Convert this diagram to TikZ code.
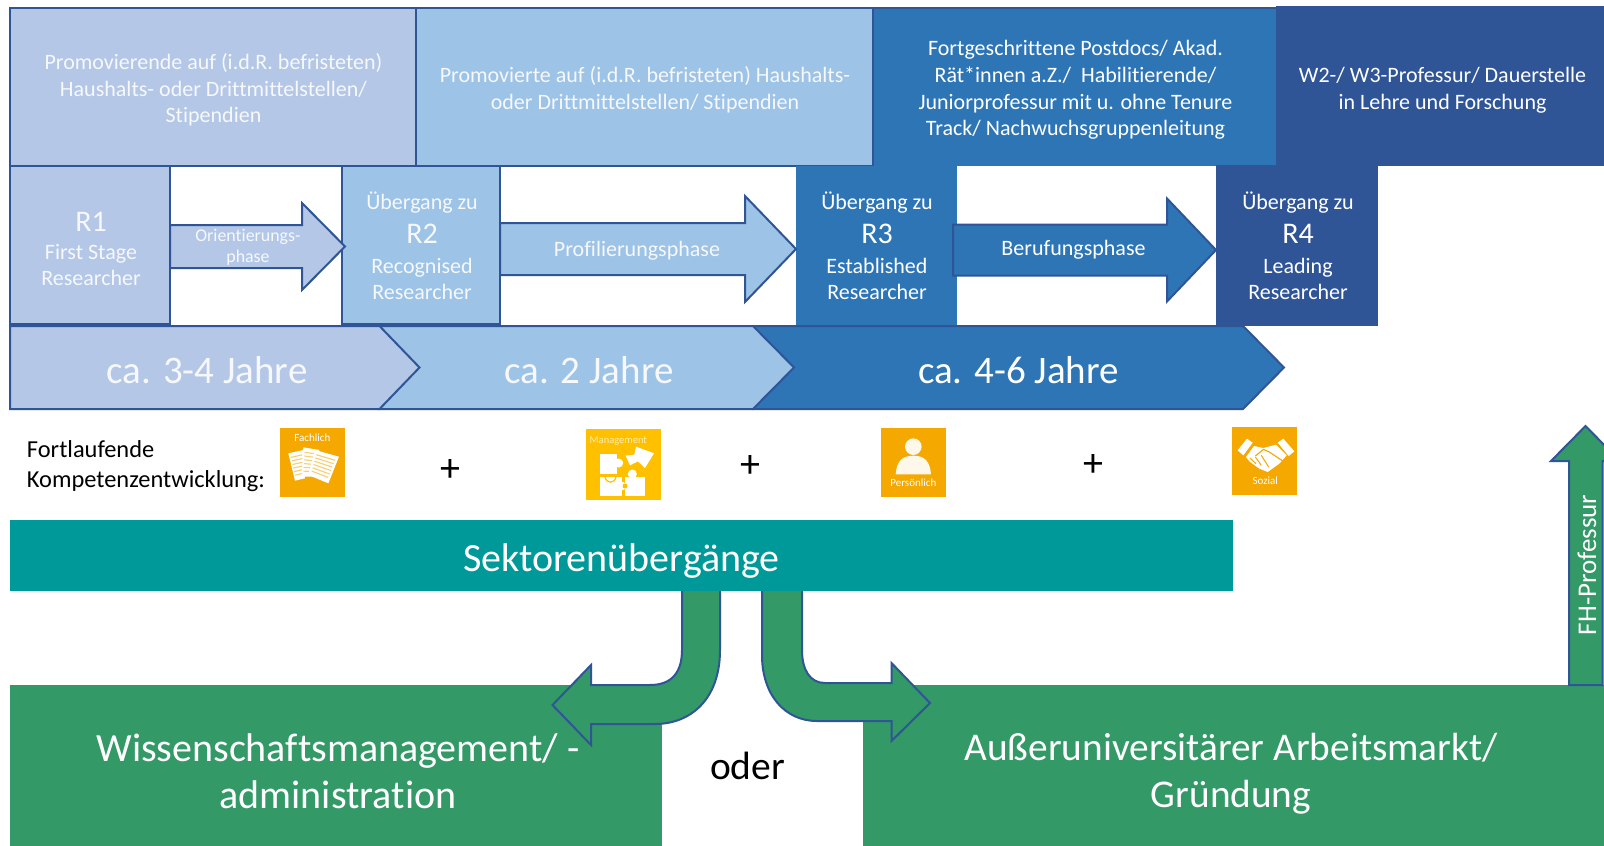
\documentclass[tikz,border=0pt]{standalone}
\usepackage{fontspec}
\setmainfont[Ligatures=NoCommon]{Carlito}
\usetikzlibrary{calc}
\definecolor{navy}{HTML}{2F5597}
\definecolor{cA}{HTML}{B4C7E7}
\definecolor{cB}{HTML}{9DC3E6}
\definecolor{cC}{HTML}{2E75B6}
\definecolor{teal2}{HTML}{009999}
\definecolor{green2}{HTML}{339966}
\definecolor{orangeI}{HTML}{F5A800}
\definecolor{yellowI}{HTML}{FFC000}
\definecolor{paleL}{HTML}{F8CF70}
\tikzset{
  boxn/.style={draw=navy,line width=2pt,inner sep=0pt,outer sep=0pt},
  flat/.style={inner sep=0pt,outer sep=0pt},
  txt/.style={text=white,inner sep=0pt,outer sep=0pt,align=center},
  pale/.style={text=white!88!cA},
  fs20/.style={font=\fontsize{22}{26.6}\selectfont},
  fs16/.style={font=\fontsize{17.9}{21}\selectfont},
  fs36/.style={font=\fontsize{39}{44}\selectfont},
  fs38/.style={font=\fontsize{40}{47}\selectfont},
  blk/.style={text=black,inner sep=0pt,outer sep=0pt},
  plusn/.style={blk,font=\fontsize{40}{40}\selectfont},
  blockarrow/.style={draw=navy,line width=2pt,line join=miter},
  icontxt/.style={text=white,inner sep=0pt,outer sep=0pt,font=\fontsize{11}{12}\selectfont},
}
\newcommand{\bigR}[1]{{\fontsize{30}{30}\selectfont #1}}
% from, to, centre y, half shaft, half head, head length, colour
\newcommand{\hblock}[7]{%
  \draw[blockarrow,fill=#7] let \p1=#1,\p2=#2 in
    (\x1,#3-#4) -- (\x2-#6pt,#3-#4) -- (\x2-#6pt,#3-#5) -- (\x2,#3)
    -- (\x2-#6pt,#3+#5) -- (\x2-#6pt,#3+#4) -- (\x1,#3+#4) -- cycle;}
\newcommand{\paper}[4]{%
  \fill[white] (#1) -- (#2) -- (#3) -- (#4) -- cycle;
  \foreach \t in {.16,.29,.42,.55,.68,.81}
    \draw[paleL,line width=1.1pt] ($(#1)!\t!(#4)!.1!($(#2)!\t!(#3)$)$) -- ($(#1)!\t!(#4)!.9!($(#2)!\t!(#3)$)$);}
\begin{document}
\begin{tikzpicture}[x=1pt,y=-1pt]
\useasboundingbox (0,0) rectangle (1604,846);
\fill[white] (0,0) rectangle (1604,846);
% top row
\node[flat,fill=navy,minimum width=328pt,minimum height=160pt] (b4) at (1440,86) {};
\node[flat,fill=cC,minimum width=404pt,minimum height=158pt] (b3) at (1074,86.5) {};
\draw[navy,line width=2pt] (b3.north west) -- (b3.north east);
\node[boxn,fill=cB,minimum width=457pt,minimum height=158pt] (b2) at (644,86.5) {};
\node[boxn,fill=cA,minimum width=406pt,minimum height=158pt] (b1) at (213,86.5) {};
\node[txt,pale,fs20] (b1t) at (213.5,90) {Promovierende auf (i.d.R. befristeten)\\Haushalts- oder Drittmittelstellen/\\Stipendien};
\node[txt,pale,fs20] (b2t) at (645,90) {Promovierte auf (i.d.R. befristeten) Haushalts-\\oder Drittmittelstellen/ Stipendien};
\node[txt,fs20] (b3t) at (1075.5,90) {Fortgeschrittene Postdocs/ Akad.\\Rät*innen a.Z./ ~Habilitierende/\\Juniorprofessur mit u. ohne Tenure\\Track/ Nachwuchsgruppenleitung};
\node[txt,fs20] (b4t) at (1442.5,90) {W2-/ W3-Professur/ Dauerstelle\\in Lehre und Forschung};
% researcher boxes
\node[boxn,fill=cA,minimum width=160pt,minimum height=158.5pt] (r1) at (90,245) {};
\node[boxn,fill=cB,minimum width=158pt,minimum height=158.5pt] (r2) at (421,245) {};
\node[flat,fill=cC,minimum width=160.5pt,minimum height=159pt] (r3) at (876.25,245) {};
\node[flat,fill=navy,minimum width=162pt,minimum height=161pt] (r4) at (1297,245.5) {};
\node[txt,pale,fs20] (r1t) at (91,249) {\bigR{R1}\\[1.5pt]First Stage\\Researcher};
\node[txt,pale,fs20] (r2t) at (422,246) {Übergang zu\\[7pt]\bigR{R2}\\[3pt]Recognised\\Researcher};
\node[txt,fs20] (r3t) at (877,246) {Übergang zu\\[7pt]\bigR{R3}\\[3pt]Established\\Researcher};
\node[txt,fs20] (r4t) at (1298,246) {Übergang zu\\[7pt]\bigR{R4}\\[3pt]Leading\\Researcher};
% phase arrows
\hblock{(r1.east)}{([xshift=3pt]r2.west)}{246.5}{21.5}{43.5}{43}{cA}
\hblock{(r2.east)}{(r3.west)}{249}{26}{53}{51}{cB}
\hblock{([xshift=-3.5pt]r3.east)}{(r4.west)}{250}{25.5}{51.5}{49}{cC}
\node[txt,pale,fs16] (p1) at (248,247) {Orientierungs-\\phase};
\node[txt,pale,fs20] (p2) at (637,250.5) {Profilierungsphase};
\node[txt,fs20] (p3) at (1073.5,249.5) {Berufungsphase};
% duration chevrons
\draw[blockarrow,fill=cC] (753,326) -- (1243,326) -- (1284,367.5) -- (1243,409) -- (753,409) -- cycle;
\draw[blockarrow,fill=cB] (379,326) -- (753,326) -- (794,367.5) -- (753,409) -- (379,409) -- cycle;
\draw[blockarrow,fill=cA] (10,326) -- (379.5,326) -- (419.5,367.5) -- (379.5,409) -- (10,409) -- cycle;
\node[txt,pale,fs36] (c1) at (207,370) {ca. 3-4 Jahre};
\node[txt,pale,fs36] (c2) at (589,370) {ca. 2 Jahre};
\node[txt,fs36] (c3) at (1018.5,370) {ca. 4-6 Jahre};
% competencies
\node[blk,anchor=west,align=left,font=\fontsize{24.4}{29.6}\selectfont] (fk) at (27,466) {Fortlaufende\\Kompetenzentwicklung:};
\node[flat,fill=orangeI,minimum width=65pt,minimum height=69pt] (i1) at (312.5,462) {};
\node[flat,fill=yellowI,minimum width=75pt,minimum height=71pt] (i2) at (623.5,464.5) {};
\node[flat,fill=orangeI,minimum width=65pt,minimum height=69pt] (i3) at (913.5,462.5) {};
\node[flat,fill=orangeI,minimum width=65pt,minimum height=68pt] (i4) at (1264.5,461) {};
\node[plusn] (pl1) at (450,470) {+};
\node[plusn] (pl2) at (750,466.5) {+};
\node[plusn] (pl3) at (1093,465) {+};
% icon: Fachlich
\begin{scope}[shift={(260,415)},x=.3333pt,y=-.3333pt]
  \paper{85,115}{130,105}{135,190}{105,197}
  \paper{130,97}{178,105}{165,185}{125,185}
  \paper{165,105}{237,125}{205,205}{145,180}
  \node[icontxt] (i1t) at (157,67) {Fachlich};
\end{scope}
% icon: Management
\begin{scope}[shift={(580,424)},x=.3333pt,y=-.3333pt]
  \fill[white] (60,90) rectangle (112,150);
  \fill[white] (116,117) circle (4.5pt);
  \fill[white] (137,95) -- (163,92) -- (168,68) -- (222,88) -- (195,132) -- (174,112) -- (150,124) -- cycle;
  \fill[white] (60,158) rectangle (125,215);
  \fill[white] (128,186) circle (4pt);
  \fill[white] (135,158) rectangle (195,215);
  \fill[white] (157,150) circle (4.5pt);
  \fill[yellowI] (135,186) circle (2.5pt);
  \draw[yellowI,line width=1.2pt] (75,158) .. controls (78,180) and (105,180) .. (108,158);
  \node[icontxt,text=white!70!yellowI,font=\fontsize{10.5}{11}\selectfont] (i2t) at (115,51) {Management};
\end{scope}
% icon: Persönlich
\begin{scope}[shift={(860,415)},x=.3333pt,y=-.3333pt]
  \fill[white!92!orangeI] (160,95) circle (8.3pt);
  \fill[white!92!orangeI] (107,178) .. controls (110,140) and (125,122) .. (160,122) .. controls (195,122) and (210,140) .. (213,178) -- cycle;
  \node[icontxt] (i3t) at (160,202) {Persönlich};
\end{scope}
% icon: Sozial
\begin{scope}[shift={(1226,422)},x=.3333pt,y=-.3333pt]
  \fill[white] (35,85) -- (63,50) -- (80,62) -- (52,100) -- cycle;
  \fill[white] (155,62) -- (172,50) -- (205,88) -- (188,102) -- cycle;
  \fill[white] (84,72) -- (112,78) -- (150,68) -- (182,100) -- (160,125) -- (125,150) -- (100,140) -- (70,118) -- (60,105) -- cycle;
  \draw[orangeI,line width=1.1pt] (88,102) -- (112,82) -- (130,90) -- (172,118);
  \draw[orangeI,line width=1pt] (72,108) -- (90,125) (88,105) -- (106,130) (106,100) -- (128,135);
  \node[icontxt] (i4t) at (118,175) {Sozial};
\end{scope}
% sector
\node[flat,fill=teal2,minimum width=1222.5pt,minimum height=71pt] (sek) at (621.25,555.5) {};
\node[txt,font=\fontsize{40}{44}\selectfont] (sekt) at (621.5,561) {Sektorenübergänge};
\node[flat,fill=green2,minimum width=652pt,minimum height=161pt] (wm) at (336,765.5) {};
\node[flat,fill=green2,minimum width=741pt,minimum height=161pt] (am) at (1233.5,765.5) {};
% sector arrows
\draw[blockarrow,fill=green2] (720,0 |- sek.south) -- (720,650) .. controls (720,700) and (690,724) .. (655,724) -- (591,724) -- (591,745) -- (552.5,705) -- (591,665) -- (591,685) -- (650,685) .. controls (672,685) and (682,672) .. (682,650) -- (682,0 |- sek.south);
\draw[blockarrow,fill=green2] (762,0 |- sek.south) -- (762,655) .. controls (762,695) and (785,721) .. (817,721) -- (891.5,721) -- (891.5,741) -- (930,703) -- (891.5,663) -- (891.5,683) -- (825,683) .. controls (810,683) and (802,670) .. (802,650) -- (802,0 |- sek.south);
% FH arrow
\draw[blockarrow,fill=green2] (1569,0 |- am.north) -- (1569,461) -- (1551,461) -- (1585.5,426) -- (1620,461) -- (1602.5,461) -- (1602.5,0 |- am.north) -- cycle;
\node[txt,rotate=90,font=\fontsize{27}{30}\selectfont] (fh) at (1587,565) {FH-Professur};
\node[txt,fs38] (wmt) at (338,771) {Wissenschaftsmanagement/ -\\administration};
\node[txt,font=\fontsize{39.3}{47}\selectfont] (amt) at (1231,774) {Außeruniversitärer Arbeitsmarkt/\\Gründung};
\node[blk,font=\fontsize{39.5}{40}\selectfont] (od) at (747.5,766) {oder};
\end{tikzpicture}
\end{document}
